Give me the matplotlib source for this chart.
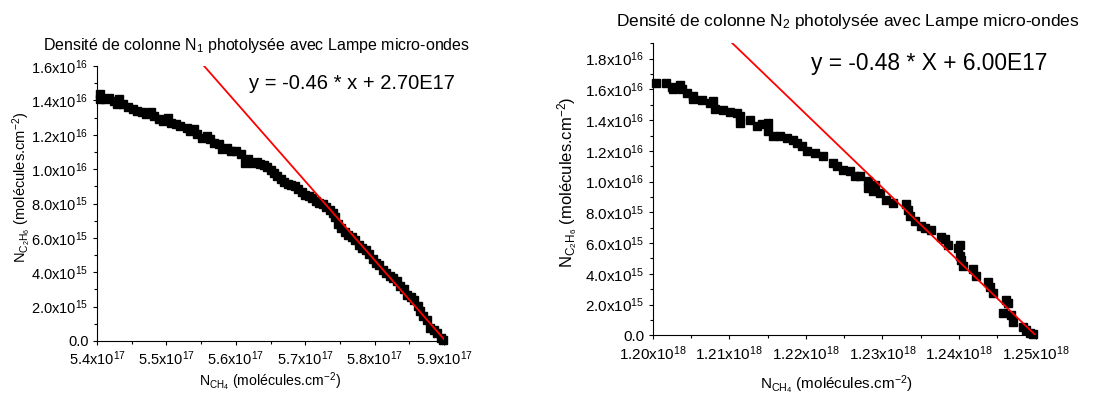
import matplotlib
matplotlib.use('Agg')
import matplotlib.pyplot as plt
from matplotlib.ticker import FuncFormatter, MultipleLocator, AutoMinorLocator
import numpy as np

plt.rcParams['font.family'] = ['Liberation Sans', 'DejaVu Sans']
plt.rcParams['mathtext.fontset'] = 'custom'
plt.rcParams['mathtext.rm'] = 'Liberation Sans'
plt.rcParams['mathtext.it'] = 'Liberation Sans'
plt.rcParams['mathtext.bf'] = 'Liberation Sans:bold'

# N1 series: N_CH4 (x1e17) vs N_C2H6 (x1e15)
x1 = [5.4036, 5.4045, 5.4111, 5.4178, 5.4245, 5.4289, 5.4312, 5.4378, 5.4445, 5.4512,
      5.4579, 5.4646, 5.4712, 5.4779, 5.4824, 5.4890, 5.4957, 5.5024, 5.5068, 5.5135,
      5.5202, 5.5291, 5.5336, 5.5402, 5.5447, 5.5514, 5.5580, 5.5625, 5.5692, 5.5759,
      5.5803, 5.5870, 5.5937, 5.6003, 5.6070, 5.6137, 5.6181, 5.6248,
      5.6300, 5.6350, 5.6400, 5.6450, 5.6500, 5.6550, 5.6600, 5.6650, 5.6700, 5.6750,
      5.6800, 5.6850, 5.6900, 5.6950, 5.7000, 5.7050, 5.7100, 5.7150, 5.7200, 5.7250,
      5.7300, 5.7350, 5.7400, 5.7430, 5.7470, 5.7520, 5.7570, 5.7620, 5.7670, 5.7720,
      5.7770, 5.7820, 5.7870, 5.7920, 5.7970, 5.8020, 5.8070, 5.8120, 5.8170, 5.8220,
      5.8270, 5.8320, 5.8370, 5.8420, 5.8470, 5.8520, 5.8570, 5.8620, 5.8660, 5.8700,
      5.8750, 5.8800, 5.8850, 5.8900, 5.8950, 5.8980]
y1 = [14.36, 14.07, 14.07, 14.17, 13.98, 13.78, 14.07, 13.78, 13.59, 13.49,
      13.39, 13.30, 13.20, 13.30, 13.10, 12.91, 12.81, 13.00, 12.71, 12.61,
      12.52, 12.42, 12.22, 12.32, 12.03, 11.83, 11.93, 11.74, 11.54, 11.45,
      11.15, 11.25, 11.06, 11.06, 10.86, 10.37, 10.57, 10.37,
      10.40, 10.30, 10.25, 10.10, 9.95, 9.80, 9.60, 9.40, 9.25, 9.15,
      9.10, 9.00, 8.85, 8.65, 8.50, 8.45, 8.30, 8.15, 8.05, 7.95,
      7.80, 7.65, 7.45, 7.20, 6.80, 6.55, 6.35, 6.15, 6.05, 5.85,
      5.60, 5.40, 5.30, 5.05, 4.80, 4.55, 4.40, 4.15, 3.95, 3.80,
      3.65, 3.50, 3.20, 3.00, 2.70, 2.55, 2.40, 2.05, 1.75, 1.45,
      1.20, 0.75, 0.65, 0.45, 0.15, 0.05]

# N2 series: N_CH4 offset from 1.20e18 (x1e16) vs N_C2H6 (x1e15)
x2 = [0.0435, 0.174, 0.248, 0.270, 0.357, 0.378, 0.443, 0.530, 0.530, 0.639,
      0.748, 0.791, 0.813, 0.922, 1.009, 1.096, 1.139, 1.139, 1.270, 1.357,
      1.422, 1.509, 1.509, 1.574, 1.661, 1.748, 1.835, 1.878, 1.943, 2.009,
      2.117, 2.226, 2.357, 2.400, 2.487, 2.574, 2.639, 2.704, 2.813, 2.813,
      2.878, 2.900, 2.965, 3.052, 3.139, 3.313, 3.335, 3.357, 3.422, 3.509,
      3.552, 3.639, 3.770, 3.813, 3.857, 3.987, 4.009, 4.009, 4.030, 4.052,
      4.183, 4.226, 4.378, 4.400, 4.443, 4.574, 4.609, 4.639, 4.683, 4.704,
      4.835, 4.878, 4.922, 4.965]
y2 = [16.39, 16.43, 16.17, 16.0, 16.26, 16.0, 15.78, 15.57, 15.35, 15.30,
      15.09, 15.24, 14.74, 14.65, 14.52, 14.48, 14.26, 13.83, 14.0, 13.65,
      13.72, 13.83, 13.28, 12.96, 12.96, 12.85, 12.74, 12.52, 12.30, 11.98,
      11.87, 11.65, 11.22, 11.0, 10.74, 10.67, 10.35, 10.35, 10.02, 9.59,
      9.37, 9.80, 9.26, 8.83, 8.61, 8.57, 8.17, 7.74, 7.41, 7.09,
      6.98, 6.83, 6.43, 6.26, 5.89, 5.67, 5.89, 5.13, 4.91, 4.48,
      4.30, 3.87, 3.50, 3.17, 2.74, 1.43, 2.30, 2.09, 1.33, 0.89,
      0.57, 0.35, 0.13, 0.09]

# linear fits (slope, intercept)
fit1 = (-0.46, 2.715e17)
fit2 = (-0.48, 6.0e17)
eq1 = 'y = -0.46 * x + 2.70E17'
eq2 = 'y = -0.48 * X + 6.00E17'

x1 = np.array(x1) * 1e17
y1 = np.array(y1) * 1e15
x2 = 1.2e18 + np.array(x2) * 1e16
y2 = np.array(y2) * 1e15


def sci(decimals):
    def f(v, pos):
        if abs(v) < 1e-3 * max(abs(v), 1):
            return '0.0'
        e = int(np.floor(np.log10(abs(v)) + 1e-9))
        m = v / 10 ** e
        return '%.*fx10$^{%d}$' % (decimals, m, e)
    return f


def style(ax, xdec, size):
    for s in ['top', 'right']:
        ax.spines[s].set_visible(False)
    ax.xaxis.set_major_formatter(FuncFormatter(sci(xdec)))
    ax.yaxis.set_major_formatter(FuncFormatter(sci(1)))
    ax.xaxis.set_minor_locator(AutoMinorLocator(2))
    ax.yaxis.set_minor_locator(AutoMinorLocator(2))
    ax.tick_params(which='major', direction='out', length=3.2, width=0.8, pad=3, labelsize=size)
    ax.tick_params(which='minor', direction='out', length=2, width=0.8)


fig = plt.figure(figsize=(11.04, 3.99), dpi=100)

ylab = r'N$_{\mathregular{C_2H_6}}$ (molécules.cm$^{-2}$)'
xlab = r'N$_{\mathregular{CH_4}}$ (molécules.cm$^{-2}$)'

# left panel
ax1 = fig.add_axes([0.0879, 0.1454, 0.3143, 0.689])
ax1.plot(x1, y1, 's', color='black', ms=5.2, clip_on=False)
lx = np.array([5.4e17, 5.9e17])
ax1.plot(lx, fit1[0] * lx + fit1[1], color='red', lw=1.3)
ax1.set_xlim(5.4e17, 5.9e17)
ax1.set_ylim(0, 1.6e16)
ax1.xaxis.set_major_locator(MultipleLocator(1e16))
ax1.yaxis.set_major_locator(MultipleLocator(2e15))
style(ax1, 1, 10.5)
ax1.text(1.03, 0.938, eq1, transform=ax1.transAxes, ha='right', va='center', fontsize=14.5)
fig.text(0.232, 0.887, r'Densité de colonne N$_\mathregular{1}$ photolysée avec Lampe micro-ondes',
         ha='center', va='center', fontsize=11.5)
fig.text(0.0199, 0.531, ylab, rotation=90, ha='center', va='center', fontsize=10.5)
fig.text(0.2446, 0.0426, xlab, ha='center', va='center', fontsize=10.2)

# right panel
ax2 = fig.add_axes([0.5912, 0.1596, 0.3469, 0.7318])
ax2.plot(x2, y2, 's', color='black', ms=5.2, clip_on=False)
lx2 = np.array([1.2e18, 1.25e18])
ax2.plot(lx2, fit2[0] * lx2 + fit2[1], color='red', lw=1.3)
ax2.set_xlim(1.2e18, 1.25e18)
ax2.set_ylim(0, 1.9e16)
ax2.xaxis.set_major_locator(MultipleLocator(1e16))
ax2.yaxis.set_major_locator(MultipleLocator(2e15))
style(ax2, 2, 11)
ax2.text(1.03, 0.932, eq2, transform=ax2.transAxes, ha='right', va='center', fontsize=16.4)
fig.text(0.768, 0.945, r'Densité de colonne N$_\mathregular{2}$ photolysée avec Lampe micro-ondes',
         ha='center', va='center', fontsize=12.5)
fig.text(0.5145, 0.544, ylab, rotation=90, ha='center', va='center', fontsize=12)
fig.text(0.758, 0.035, xlab, ha='center', va='center', fontsize=11)

fig.savefig('out.png', dpi=100)
